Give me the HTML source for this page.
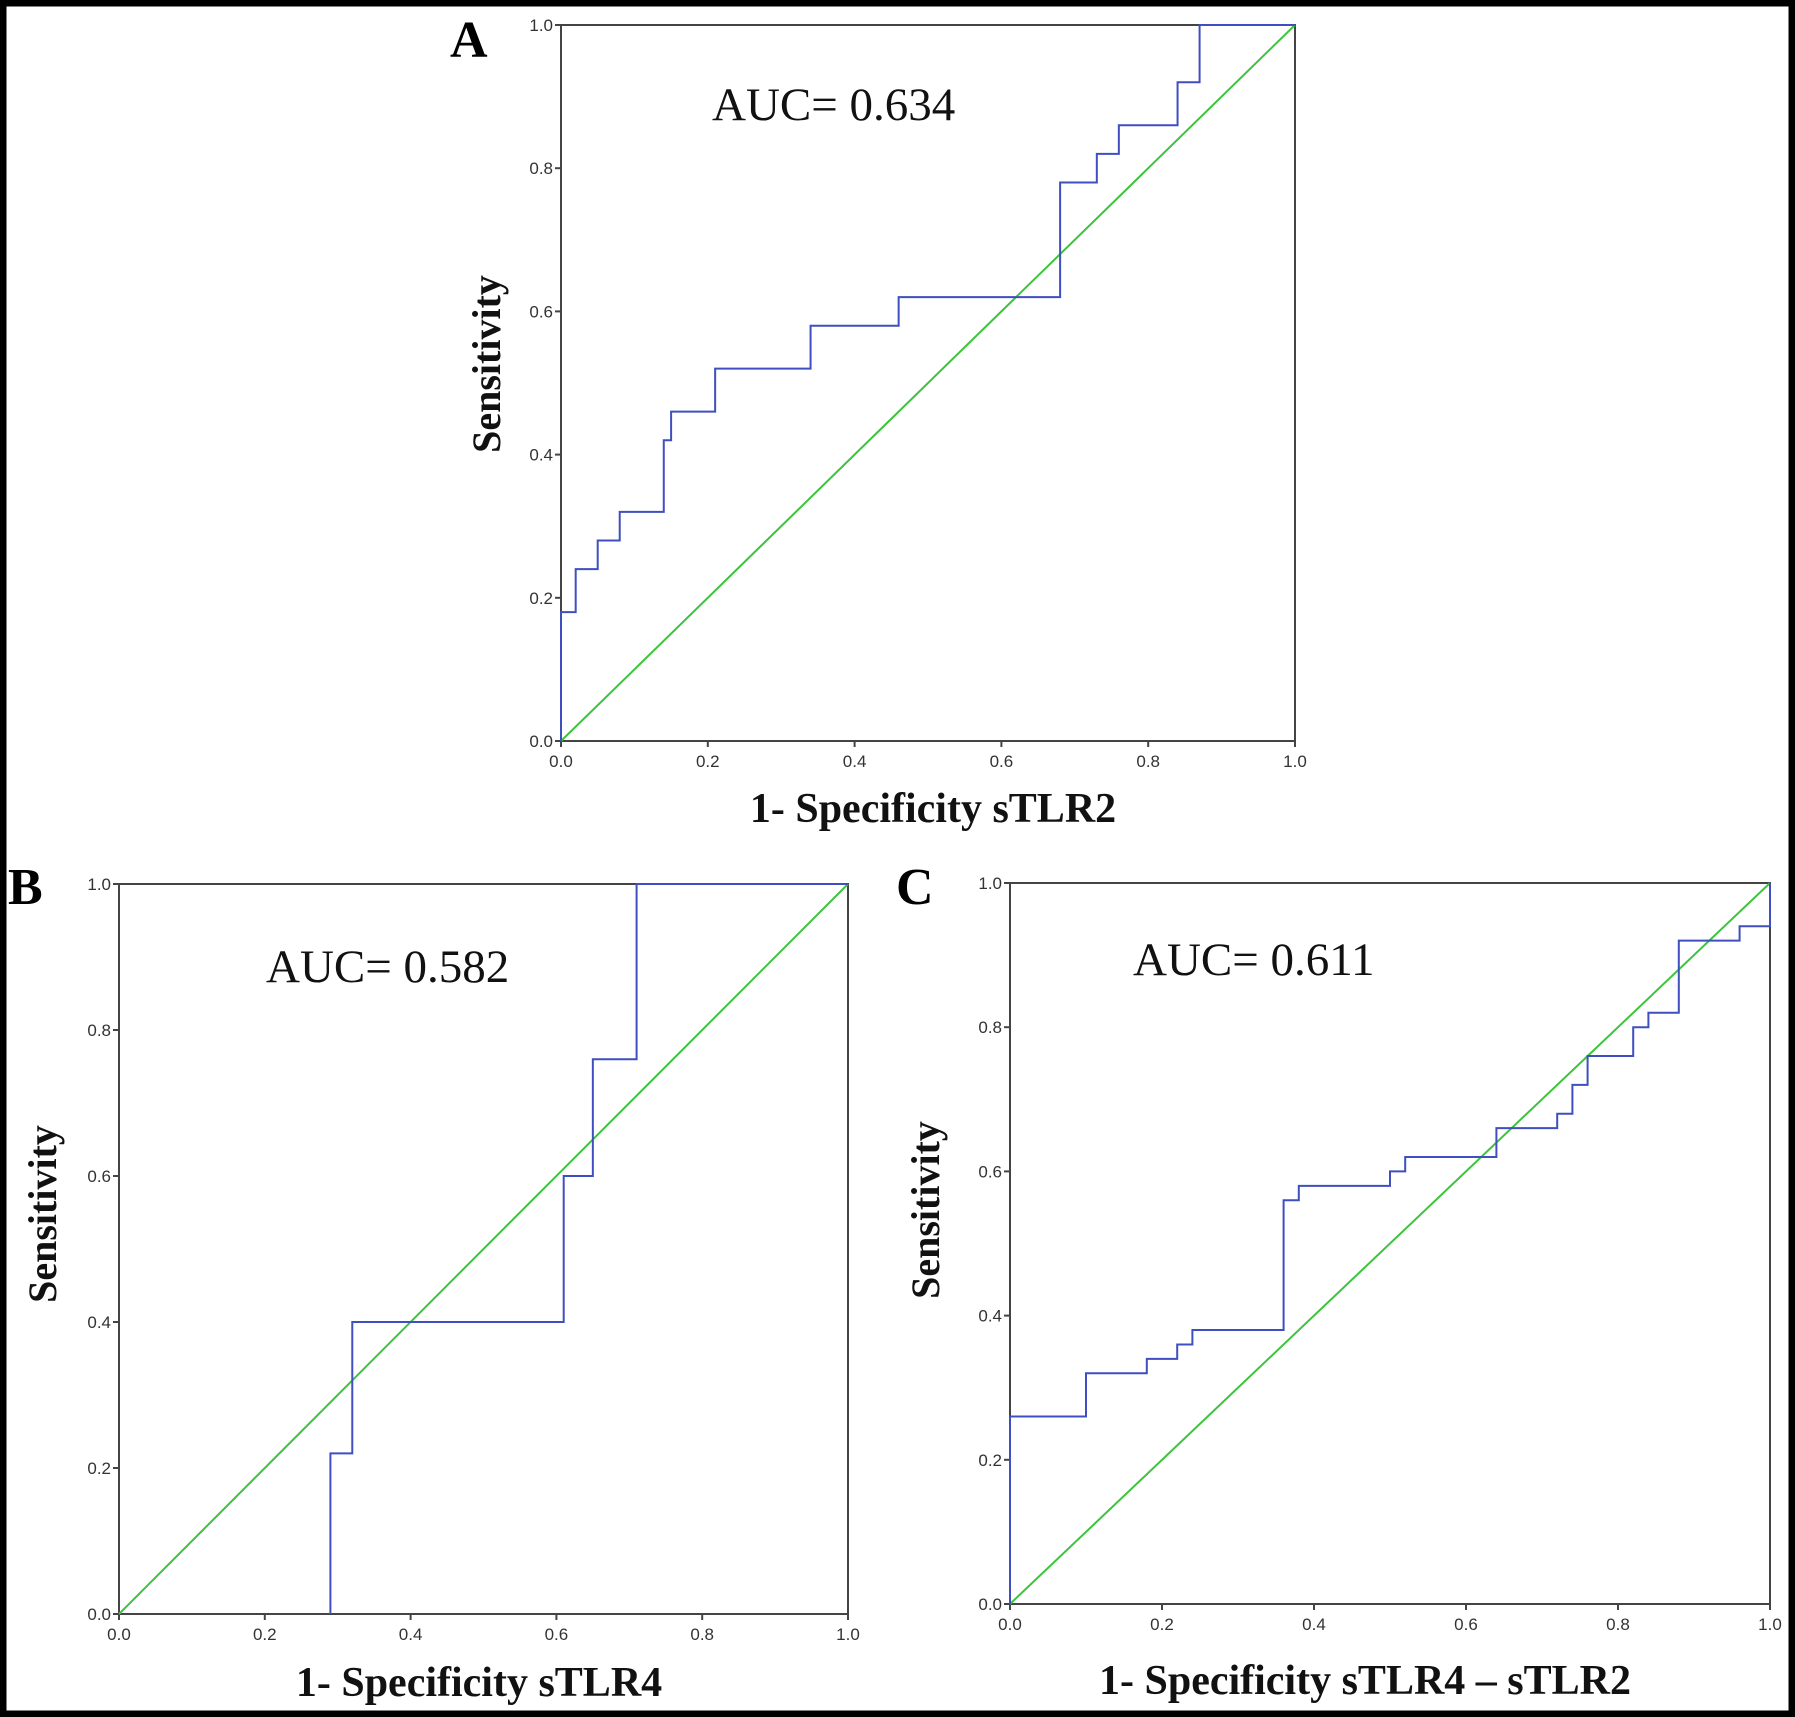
<!DOCTYPE html>
<html><head><meta charset="utf-8"><style>
html,body{margin:0;padding:0;background:#fff}
svg{display:block}
</style></head><body>
<svg id="fig" width="1795" height="1717" viewBox="0 0 1795 1717" xmlns="http://www.w3.org/2000/svg">
<rect x="3" y="3" width="1789" height="1711" fill="#fff" stroke="#000" stroke-width="7"/>
</svg>
<script>
const ticks = [0, 0.2, 0.4, 0.6, 0.8, 1.0];
const tickLabels = ["0.0","0.2","0.4","0.6","0.8","1.0"];
const fprA = [0,0,0.02,0.02,0.05,0.05,0.08,0.08,0.14,0.14,0.15,0.15,0.21,0.21,0.34,0.34,0.46,0.46,0.68,0.68,0.73,0.73,0.76,0.76,0.84,0.84,0.87,0.87,1];
const tprA = [0,0.18,0.18,0.24,0.24,0.28,0.28,0.32,0.32,0.42,0.42,0.46,0.46,0.52,0.52,0.58,0.58,0.62,0.62,0.78,0.78,0.82,0.82,0.86,0.86,0.92,0.92,1,1];
const fprB = [0.29,0.29,0.32,0.32,0.61,0.61,0.65,0.65,0.71,0.71,1];
const tprB = [0,0.22,0.22,0.40,0.40,0.60,0.60,0.76,0.76,1,1];
const fprC = [0,0,0.10,0.10,0.18,0.18,0.22,0.22,0.24,0.24,0.36,0.36,0.38,0.38,0.50,0.50,0.52,0.52,0.64,0.64,0.72,0.72,0.74,0.74,0.76,0.76,0.82,0.82,0.84,0.84,0.88,0.88,0.96,0.96,1,1];
const tprC = [0,0.26,0.26,0.32,0.32,0.34,0.34,0.36,0.36,0.38,0.38,0.56,0.56,0.58,0.58,0.60,0.60,0.62,0.62,0.66,0.66,0.68,0.68,0.72,0.72,0.76,0.76,0.80,0.80,0.82,0.82,0.92,0.92,0.94,0.94,1];

const NS='http://www.w3.org/2000/svg';
const svg=document.getElementById('fig');
function mk(tag,attrs,parent){const e=document.createElementNS(NS,tag);for(const k in attrs)e.setAttribute(k,attrs[k]);(parent||svg).appendChild(e);return e;}

function panel(p){
  const g=mk('g',{});
  
  
  const sx=v=>p.l+v*(p.r-p.l), sy=v=>p.b-v*(p.b-p.t);
  const box=mk('rect',{x:p.l,y:p.t,width:p.r-p.l,height:p.b-p.t,fill:'none',stroke:'#444','stroke-width':2},g);
  
  
  ticks.forEach((t,i)=>{
    mk('line',{x1:p.l-6,x2:p.l,y1:sy(t),y2:sy(t),stroke:'#444','stroke-width':2},g);
    const yl=mk('text',{x:p.l-8,y:sy(t)+6,'text-anchor':'end','font-family':'Liberation Sans, sans-serif','font-size':17,fill:'#333'},g);
    yl.textContent=tickLabels[i];
    
    
    mk('line',{x1:sx(t),x2:sx(t),y1:p.b,y2:p.b+6,stroke:'#444','stroke-width':2},g);
    const xl=mk('text',{x:sx(t),y:p.b+26,'text-anchor':'middle','font-family':'Liberation Sans, sans-serif','font-size':17,fill:'#333'},g);
    xl.textContent=tickLabels[i];
    
    
  });
  const ref=mk('line',{x1:sx(0),y1:sy(0),x2:sx(1),y2:sy(1),stroke:'#3cc43c','stroke-width':2},g);
  
  
  const pts=p.fpr.map((f,i)=>sx(f)+','+sy(p.tpr[i])).join(' ');
  const curve=mk('polyline',{points:pts,fill:'none',stroke:'#3f4fc0','stroke-width':2},g);
  
  
  const auc=mk('text',{x:p.aucX,y:p.aucY,'font-family':'Liberation Serif, serif','font-size':47,fill:'#111'},g);
  auc.textContent=p.auc;
  
  
  const let_=mk('text',{x:p.letX,y:p.letY,'font-family':'Liberation Serif, serif','font-size':52,'font-weight':'bold',fill:'#000'},g);
  let_.textContent=p.id;
  
  
  const yt=mk('text',{x:0,y:0,transform:`translate(${p.ytX},${p.ytY}) rotate(-90)`,'text-anchor':'middle','font-family':'Liberation Serif, serif','font-size':40,'font-weight':'bold',fill:'#111'},g);
  yt.textContent='Sensitivity';
  
  
  const xt=mk('text',{x:p.xtX,y:p.xtY,'text-anchor':'middle','font-family':'Liberation Serif, serif','font-size':42,'font-weight':'bold',fill:'#111'},g);
  xt.textContent=p.xtitle;
  
  
}
panel({id:'A',l:561,r:1295,t:25,b:741,fpr:fprA,tpr:tprA,auc:'AUC= 0.634',aucX:712,aucY:120,letX:450,letY:57,ytX:500,ytY:364,xtX:933,xtY:822,xtitle:'1- Specificity sTLR2'});
panel({id:'B',l:119,r:848,t:884,b:1614,fpr:fprB,tpr:tprB,auc:'AUC= 0.582',aucX:266,aucY:982,letX:8,letY:904,ytX:56,ytY:1214,xtX:479,xtY:1696,xtitle:'1- Specificity sTLR4'});
panel({id:'C',l:1010,r:1770,t:883,b:1604,fpr:fprC,tpr:tprC,auc:'AUC= 0.611',aucX:1133,aucY:975,letX:896,letY:904,ytX:939,ytY:1210,xtX:1365,xtY:1694,xtitle:'1- Specificity sTLR4 – sTLR2'});
</script>
</body></html>
